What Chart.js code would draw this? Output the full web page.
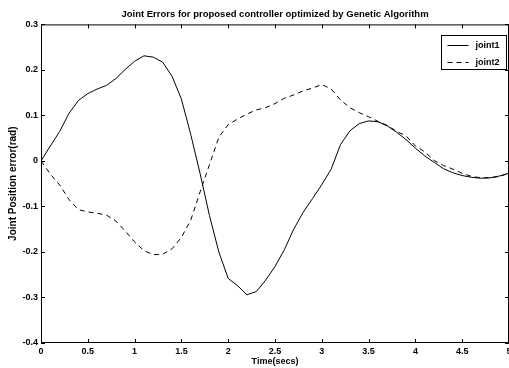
<!DOCTYPE html>
<html>
<head>
<meta charset="utf-8">
<script src="https://cdn.jsdelivr.net/npm/chart.js@4.4.1/dist/chart.umd.min.js"></script>
<style>
  html, body { margin: 0; padding: 0; background: #fff; }
  #chartBox { width: 509px; height: 368px; }
</style>
</head>
<body>
<div id="chartBox"><canvas id="jointErrorChart" width="509" height="368"></canvas></div>
<script>
const timeSecs = [
  0, 0.1, 0.2, 0.3, 0.4, 0.5, 0.6, 0.7, 0.8, 0.9,
  1.0, 1.1, 1.2, 1.3, 1.4, 1.5, 1.6, 1.7, 1.8, 1.9,
  2.0, 2.1, 2.2, 2.3, 2.4, 2.5, 2.6, 2.7, 2.8, 2.9,
  3.0, 3.1, 3.2, 3.3, 3.4, 3.5, 3.6, 3.7, 3.8, 3.9,
  4.0, 4.1, 4.2, 4.3, 4.4, 4.5, 4.6, 4.7, 4.8, 4.9, 5.0,
];
const joint1Error = [
  0, 0.033, 0.065, 0.105, 0.133, 0.148, 0.158, 0.166, 0.181, 0.201,
  0.219, 0.231, 0.228, 0.217, 0.186, 0.136, 0.058, -0.028, -0.12, -0.2,
  -0.258, -0.274, -0.294, -0.287, -0.262, -0.232, -0.195, -0.15, -0.113, -0.083,
  -0.052, -0.018, 0.036, 0.066, 0.082, 0.088, 0.086, 0.077, 0.063, 0.047,
  0.028, 0.011, -0.003, -0.017, -0.026, -0.032, -0.036, -0.038, -0.037, -0.033, -0.027,
];
const joint2Error = [
  0, -0.029, -0.053, -0.085, -0.107, -0.112, -0.115, -0.119, -0.132, -0.154,
  -0.178, -0.197, -0.206, -0.205, -0.193, -0.168, -0.13, -0.068, -0.008, 0.052,
  0.08, 0.092, 0.103, 0.112, 0.117, 0.126, 0.138, 0.145, 0.154, 0.16,
  0.168, 0.158, 0.134, 0.117, 0.106, 0.097, 0.087, 0.078, 0.065, 0.055,
  0.033, 0.02, 0.001, -0.01, -0.018, -0.027, -0.034, -0.037, -0.037, -0.034, -0.027,
];
const seriesNames = ["joint1", "joint2"];
const xTickStep = 0.5;
const yTickStep = 0.1;

const FONT = "'Liberation Sans', Arial, sans-serif";

function toPoints(values) {
  return values.map((v, i) => ({ x: timeSecs[i], y: v }));
}

// "0", "0.5", "1" like matlab, not "0.0", "1.0"
function shortTick(value) {
  return String(Number(value.toFixed(2)));
}

// matlab style: box around axes, ticks pointing inwards on all four sides
const axesBoxPlugin = {
  id: "axesBox",
  afterDraw(chart) {
    const { ctx, chartArea: a, scales } = chart;
    const tick = 4;
    ctx.save();
    ctx.strokeStyle = "#000";
    ctx.lineWidth = 1;
    ctx.beginPath();
    scales.x.ticks.forEach((t) => {
      const px = Math.round(scales.x.getPixelForValue(t.value)) + 0.5;
      ctx.moveTo(px, a.bottom);
      ctx.lineTo(px, a.bottom - tick);
      ctx.moveTo(px, a.top);
      ctx.lineTo(px, a.top + tick);
    });
    scales.y.ticks.forEach((t) => {
      const py = Math.round(scales.y.getPixelForValue(t.value)) + 0.5;
      ctx.moveTo(a.left, py);
      ctx.lineTo(a.left + tick, py);
      ctx.moveTo(a.right, py);
      ctx.lineTo(a.right - tick, py);
    });
    ctx.stroke();
    ctx.strokeRect(a.left + 0.5, a.top + 0.5, a.right - a.left - 1, a.bottom - a.top - 1);
    ctx.restore();
  },
};

// legend box in the upper right corner of the axes
const legendBoxPlugin = {
  id: "legendBox",
  afterDraw(chart) {
    const { ctx, chartArea: a } = chart;
    const w = 65, h = 34;
    const left = Math.round(a.right - 3 - w) + 0.5;
    const top = Math.round(a.top + 11) + 0.5;
    ctx.save();
    ctx.fillStyle = "#fff";
    ctx.fillRect(left, top, w, h);
    ctx.strokeStyle = "#000";
    ctx.lineWidth = 1;
    ctx.strokeRect(left, top, w, h);
    ctx.font = "bold 9px " + FONT;
    ctx.textBaseline = "middle";
    ctx.fillStyle = "#000";
    chart.data.datasets.forEach((ds, i) => {
      const y = Math.round(top + 9 + i * 17.5) + 0.5;
      ctx.setLineDash(ds.borderDash || []);
      ctx.beginPath();
      ctx.moveTo(left + 6, y);
      ctx.lineTo(left + 27, y);
      ctx.stroke();
      ctx.setLineDash([]);
      ctx.fillText(ds.label, left + 34, y);
    });
    ctx.restore();
  },
};

const ctx = document.getElementById("jointErrorChart").getContext("2d");
new Chart(ctx, {
  type: "line",
  data: {
    datasets: [
      {
        label: seriesNames[0],
        data: toPoints(joint1Error),
        borderColor: "#000",
        borderWidth: 1,
        pointRadius: 0,
        tension: 0,
      },
      {
        label: seriesNames[1],
        data: toPoints(joint2Error),
        borderColor: "#000",
        borderWidth: 1,
        borderDash: [5, 4],
        pointRadius: 0,
        tension: 0,
      },
    ],
  },
  options: {
    responsive: false,
    animation: false,
    devicePixelRatio: 1,
    layout: { padding: 0 },
    plugins: {
      legend: { display: false },
      tooltip: { enabled: false },
      title: {
        display: true,
        text: "Joint Errors for proposed controller optimized by Genetic Algorithm",
        color: "#000",
        fullSize: false,
        font: { family: FONT, size: 9.5, weight: "bold" },
        padding: { top: 9, bottom: 4 },
      },
    },
    scales: {
      x: {
        type: "linear",
        min: 0,
        max: 5,
        ticks: {
          stepSize: xTickStep,
          color: "#000",
          padding: 3,
          maxRotation: 0,
          autoSkip: false,
          font: { family: FONT, size: 9, weight: "bold" },
          callback: (value) => shortTick(value),
        },
        grid: { display: false, drawTicks: false },
        border: { display: false },
        title: {
          display: true,
          text: "Time(secs)",
          color: "#000",
          font: { family: FONT, size: 9, weight: "bold" },
          padding: { top: 0, bottom: 1 },
        },
        afterFit(scale) {
          scale.height = 25;
          scale.paddingLeft = 0;
          scale.paddingRight = 0;
        },
      },
      y: {
        min: -0.4,
        max: 0.3,
        ticks: {
          stepSize: yTickStep,
          color: "#000",
          padding: 3,
          autoSkip: false,
          font: { family: FONT, size: 9, weight: "bold" },
          callback: (value) => shortTick(value),
        },
        grid: { display: false, drawTicks: false },
        border: { display: false },
        title: {
          display: true,
          text: "Joint Position error(rad)",
          color: "#000",
          font: { family: FONT, size: 10, weight: "bold" },
          padding: { top: 7, bottom: 0 },
        },
        afterFit(scale) {
          scale.width = 41;
          scale.paddingTop = 0;
          scale.paddingBottom = 0;
        },
      },
    },
  },
  plugins: [axesBoxPlugin, legendBoxPlugin],
});
</script>
</body>
</html>
